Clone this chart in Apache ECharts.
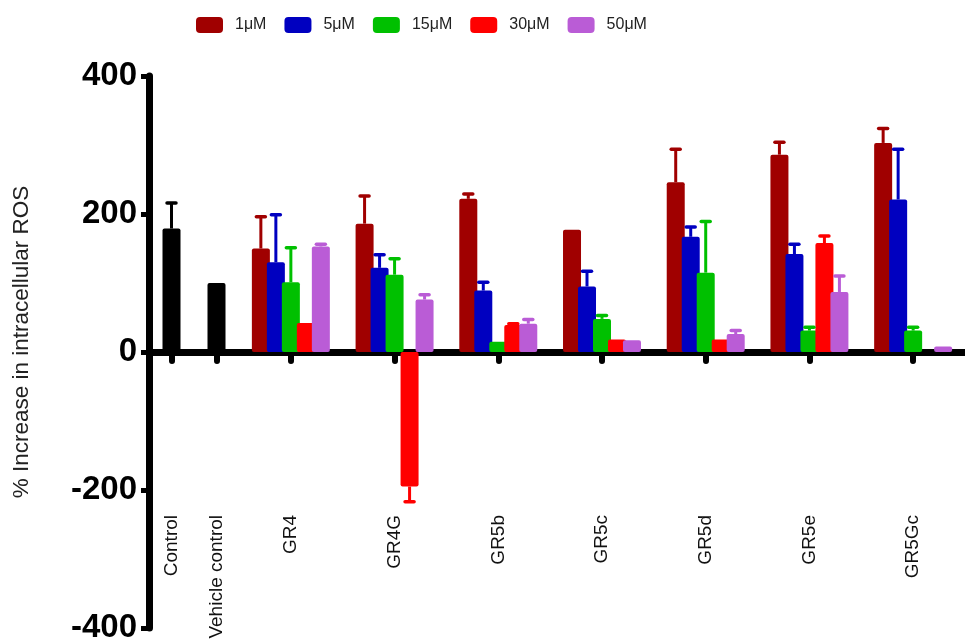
<!DOCTYPE html>
<html>
<head>
<meta charset="utf-8">
<script src="https://cdn.jsdelivr.net/npm/echarts@6/dist/echarts.min.js"></script>
<style>
  html, body { margin: 0; padding: 0; background: #fff; }
  #chart { width: 965px; height: 644px; }
</style>
</head>
<body>
<div id="chart"></div>
<script>
// Control groups
const controlCategories = ['Control', 'Vehicle control'];
const controlValues = [179, 100];
const controlErrors = [37, 0];

// Compounds tested at five concentrations
const compounds = ['GR4', 'GR4G', 'GR5b', 'GR5c', 'GR5d', 'GR5e', 'GR5Gc'];
const doses = ['1μM', '5μM', '15μM', '30μM', '50μM'];

const values1uM  = [150, 186, 222, 177, 246, 286, 303];
const errors1uM  = [46, 40, 7, 0, 48, 18, 21];
const values5uM  = [130, 122, 89, 95, 167, 142, 221];
const errors5uM  = [69, 19, 12, 22, 14, 14, 73];
const values15uM = [101, 112, 15, 48, 115, 31, 31];
const errors15uM = [50, 23, 0, 5, 74, 5, 5];
const values30uM = [42, -195, 39, 18, 18, 158, 0];
const errors30uM = [0, 22, 2, 0, 0, 10, 0];
const values50uM = [153, 76, 41, 17, 26, 87, 8];
const errors50uM = [3, 7, 6, 0, 5, 23, 0];

const yTicks = { min: -400, max: 400, interval: 200 };

const doseValues = [values1uM, values5uM, values15uM, values30uM, values50uM];
const doseErrors = [errors1uM, errors5uM, errors15uM, errors30uM, errors50uM];
const doseColors = ['#a00000', '#0000c0', '#00c000', '#ff0000', '#ba5cd6'];

const BAR_W = 18;
const BAR_STEP = 15;            // centre-to-centre distance of bars in a group
const BAR_GAP = ((BAR_STEP - BAR_W) / BAR_W * 100).toFixed(1) + '%';

// One-sided error bar (upwards for positive means, downwards for negative)
function errorBars(name, axisIndex, values, errors, color, offset) {
  return {
    type: 'custom',
    name: name,
    xAxisIndex: axisIndex,
    yAxisIndex: axisIndex,
    silent: true,
    z: 3,
    data: values.map((v, i) => [i, v, errors[i]]),
    renderItem: function (params, api) {
      const idx = api.value(0);
      const v = api.value(1);
      const e = api.value(2);
      if (!e) return null;
      const end = v >= 0 ? v + e : v - e;
      const p0 = api.coord([idx, v]);
      const p1 = api.coord([idx, end]);
      const x = p0[0] + offset;
      return {
        type: 'group',
        children: [
          { type: 'line', shape: { x1: x, y1: p0[1], x2: x, y2: p1[1] },
            style: { stroke: color, lineWidth: 3 } },
          { type: 'line', shape: { x1: x - 4.5, y1: p1[1], x2: x + 4.5, y2: p1[1] },
            style: { stroke: color, lineWidth: 3.5, lineCap: 'round' } }
        ]
      };
    }
  };
}

const axisBlack = { color: '#000', width: 7 };

const xAxisBase = {
  type: 'category',
  axisLine: { show: true, onZero: true, lineStyle: axisBlack },
  axisTick: { show: true, alignWithLabel: true, length: 9, lineStyle: { color: '#000', width: 6, cap: 'round' } },
  axisLabel: { show: true, rotate: 90, margin: -113, fontSize: 19, color: '#111', interval: 0 },
  splitLine: { show: false }
};

const series = [];

series.push({
  type: 'bar',
  name: 'Controls',
  xAxisIndex: 0,
  yAxisIndex: 0,
  data: controlValues,
  barWidth: BAR_W,
  itemStyle: { color: '#000', borderRadius: 2 }
});
series.push(errorBars('Controls SD', 0, controlValues, controlErrors, '#000', 0));

doses.forEach((d, k) => {
  series.push({
    type: 'bar',
    name: d,
    xAxisIndex: 1,
    yAxisIndex: 1,
    data: doseValues[k],
    barWidth: BAR_W,
    barGap: BAR_GAP,
    itemStyle: { color: doseColors[k], borderRadius: 2 }
  });
});
doses.forEach((d, k) => {
  series.push(errorBars(d + ' SD', 1, doseValues[k], doseErrors[k], doseColors[k], (k - 2) * BAR_STEP));
});

const chart = echarts.init(document.getElementById('chart'), null, { renderer: 'canvas' });
chart.setOption({
  animation: false,
  backgroundColor: '#fff',
  textStyle: { fontFamily: '"Liberation Sans", Arial, sans-serif' },
  legend: {
    data: doses,
    top: 17,
    left: 196,
    padding: 0,
    icon: 'roundRect',
    itemWidth: 27,
    itemHeight: 16,
    itemGap: 18,
    textStyle: { fontSize: 16, color: '#222', padding: [0, 0, 0, 7] }
  },
  grid: [
    { left: 149, top: 76, bottom: 16, width: 90, containLabel: false, outerBoundsMode: 'none' },
    { left: 239, top: 76, bottom: 16, right: 0, containLabel: false, outerBoundsMode: 'none' }
  ],
  xAxis: [
    Object.assign({}, xAxisBase, { gridIndex: 0, data: controlCategories }),
    Object.assign({}, xAxisBase, { gridIndex: 1, data: compounds })
  ],
  yAxis: [
    {
      gridIndex: 0,
      type: 'value',
      min: yTicks.min, max: yTicks.max, interval: yTicks.interval,
      axisLine: { show: true, lineStyle: axisBlack },
      axisTick: { show: true, length: 8, lineStyle: { color: '#000', width: 5 } },
      axisLabel: { fontSize: 33, fontWeight: 'bold', color: '#000', margin: 12 },
      splitLine: { show: false },
      name: '% Increase in intracellular ROS',
      nameLocation: 'middle',
      nameGap: 116,
      nameTextStyle: { fontSize: 22.5, color: '#222', padding: [0, 0, 0, 20] }
    },
    {
      gridIndex: 1,
      type: 'value',
      min: yTicks.min, max: yTicks.max, interval: yTicks.interval,
      show: false,
      splitLine: { show: false }
    }
  ],
  series: series
});
</script>
</body>
</html>
